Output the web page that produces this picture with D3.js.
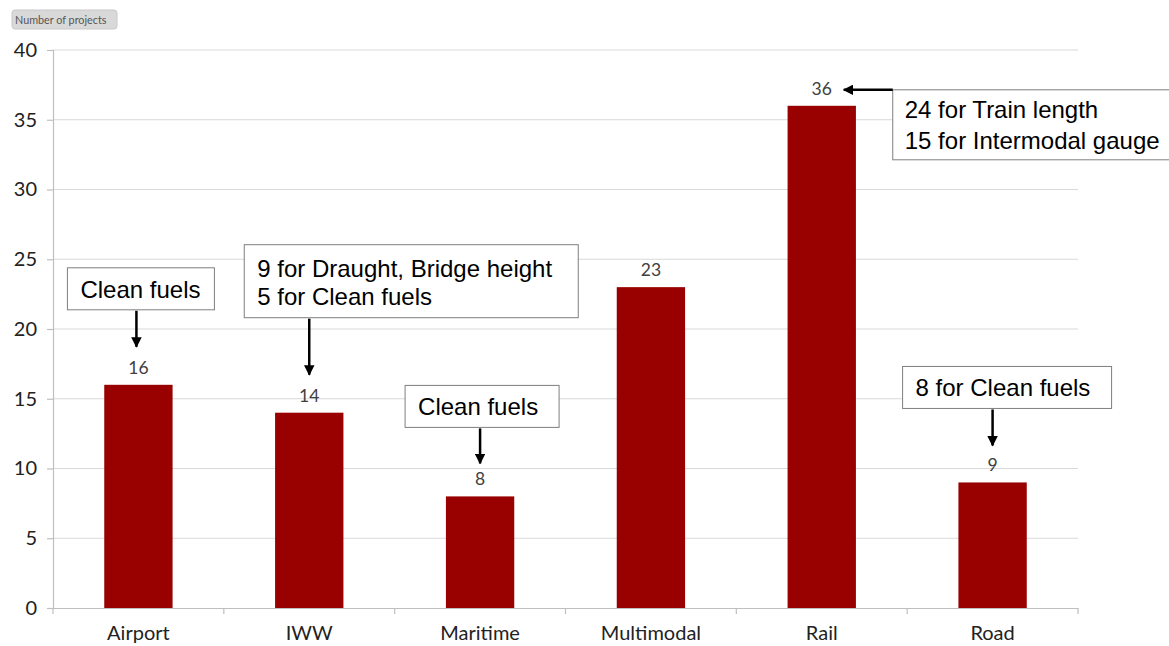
<!DOCTYPE html>
<html><head><meta charset="utf-8">
<script src="https://cdn.jsdelivr.net/npm/d3@7/dist/d3.min.js"></script>
<style>body{margin:0;background:#fff}svg{display:block}</style>
</head><body><svg id="c" width="1169" height="646"></svg>
<script>
const categories = ["Airport","IWW","Maritime","Multimodal","Rail","Road"];
const values = [16,14,8,23,36,9];
const yTicks = [0,5,10,15,20,25,30,35,40];
const noteCats = ["Airport","IWW","Maritime","Rail","Road"];
const noteTexts = [["Clean fuels"],["9 for Draught, Bridge height","5 for Clean fuels"],["Clean fuels"],["24 for Train length","15 for Intermodal gauge"],["8 for Clean fuels"]];

(function(){
const svg = d3.select("#c");
const mL = 53, mR = 1078, mT = 50, mB = 608;
const x = d3.scaleBand().domain(categories).range([mL,mR]).paddingInner(0.6).paddingOuter(0.3);
const y = d3.scaleLinear().domain([0,40]).range([mB,mT]);
const step = x.step();
const sans = "Lato, 'Open Sans', sans-serif";
const ff = "'Liberation Sans', Arial, sans-serif";

const defs = svg.append("defs");
defs.append("marker").attr("id","ah").attr("viewBox","0 0 10 10").attr("refX",9).attr("refY",5)
  .attr("markerWidth",4.2).attr("markerHeight",4.2).attr("orient","auto").attr("markerUnits","strokeWidth")
  .append("path").attr("d","M0,0L10,5L0,10z").attr("fill","#000");

// y label badge
svg.append("rect").attr("x",12).attr("y",10).attr("width",105).attr("height",19).attr("rx",3)
  .attr("fill","#d9d9d9").attr("stroke","#c8c8c8");
svg.append("text").attr("x",15).attr("y",23.5).attr("font-family",sans)
  .attr("font-size",10.8).attr("fill","#555").text("Number of projects");

// gridlines
svg.append("g").selectAll("line").data(yTicks.filter(d=>d>0)).join("line")
  .attr("x1",mL).attr("x2",mR).attr("y1",d=>y(d)).attr("y2",d=>y(d))
  .attr("stroke","#d9d9d9").attr("stroke-width",1.2);

// y axis
const ya = svg.append("g").attr("transform",`translate(${mL},0)`)
  .call(d3.axisLeft(y).tickValues(yTicks).tickSize(6).tickPadding(10));
ya.select(".domain").attr("stroke","#bfbfbf").attr("stroke-width",1.2);
ya.selectAll(".tick line").attr("stroke","#bfbfbf").attr("stroke-width",1.2);
ya.selectAll(".tick text").attr("font-family",sans).attr("font-size",20).attr("fill","#222");

// x axis
const xa = svg.append("g").attr("transform",`translate(0,${mB})`)
  .call(d3.axisBottom(x).tickSize(0).tickPadding(18));
xa.select(".domain").attr("stroke","#bfbfbf").attr("stroke-width",1.2);
xa.selectAll(".tick text").attr("font-family",sans).attr("font-size",20).attr("fill","#222");
svg.append("g").selectAll("line").data(d3.range(categories.length+1)).join("line")
  .attr("x1",i=>mL+i*step).attr("x2",i=>mL+i*step).attr("y1",mB).attr("y2",mB+6)
  .attr("stroke","#bfbfbf").attr("stroke-width",1.2);

// bars
svg.append("g").selectAll("rect").data(categories).join("rect")
  .attr("x",d=>x(d)).attr("width",x.bandwidth())
  .attr("y",(d,i)=>y(values[i])).attr("height",(d,i)=>mB-y(values[i]))
  .attr("fill","#990000");

// value labels
svg.append("g").selectAll("text").data(categories).join("text")
  .attr("x",d=>x(d)+x.bandwidth()/2).attr("y",(d,i)=>y(values[i])-11)
  .attr("text-anchor","middle").attr("font-family",sans)
  .attr("font-size",17.5).attr("fill","#404040").text((d,i)=>values[i]);

// annotation layout relative to bar centre / bar top
const layout = {
  Airport:{dx:-71,w:147,tip:38,gap:37,h:42,ax:-2},
  IWW:{dx:-65,w:334,tip:38,gap:57,h:73,ax:0},
  Maritime:{dx:-75,w:154,tip:33,gap:36,h:42,ax:0},
  Road:{dx:-90,w:209,tip:37,gap:37,h:42,ax:0}
};
noteCats.forEach((c,k)=>{
  const lines = noteTexts[k];
  const v = values[categories.indexOf(c)];
  const cx = x(c)+x.bandwidth()/2;
  const g = svg.append("g");
  if (c !== "Rail") {
    const L = layout[c];
    const tipY = y(v)-L.tip;
    const by = tipY - L.gap - L.h;
    const bx = cx + L.dx;
    g.append("rect").attr("x",bx).attr("y",by).attr("width",L.w).attr("height",L.h)
      .attr("fill","#fff").attr("stroke","#7f7f7f").attr("stroke-width",1);
    lines.forEach((t,j)=>g.append("text").attr("x",bx+13).attr("y",by+(lines.length===1?30:32)+j*28)
      .attr("font-family",ff).attr("font-size",24).attr("fill","#000").text(t));
    g.append("line").attr("x1",cx+L.ax).attr("x2",cx+L.ax)
      .attr("y1",by+L.h+1).attr("y2",tipY).attr("stroke","#000").attr("stroke-width",2.5)
      .attr("marker-end","url(#ah)");
  } else {
    const by = y(v)-16;
    const bx = cx+71;
    g.append("rect").attr("x",bx).attr("y",by).attr("width",290).attr("height",70)
      .attr("fill","#fff").attr("stroke","#7f7f7f").attr("stroke-width",1);
    lines.forEach((t,j)=>g.append("text").attr("x",bx+12).attr("y",by+28+j*31)
      .attr("font-family",ff).attr("font-size",24).attr("fill","#000").text(t));
    g.append("line").attr("x1",bx).attr("x2",cx+22).attr("y1",by).attr("y2",by)
      .attr("stroke","#000").attr("stroke-width",2.5).attr("marker-end","url(#ah)");
  }
});
})();
</script></body></html>
